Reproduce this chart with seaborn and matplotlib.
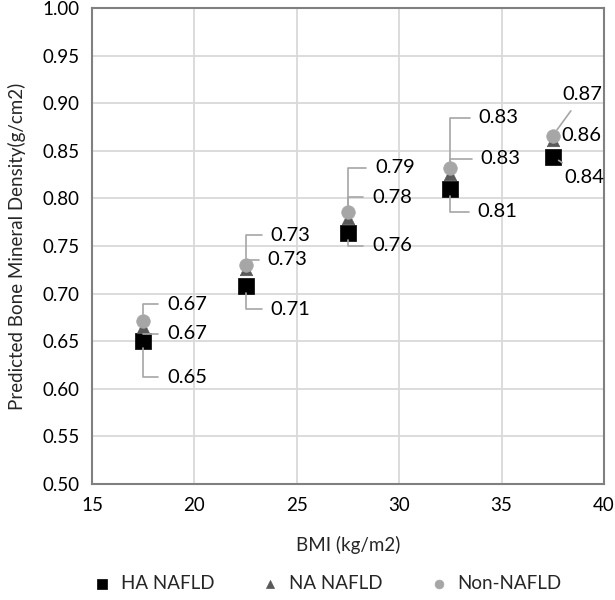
import numpy as np
import pandas as pd
import matplotlib
matplotlib.use("Agg")
import matplotlib.pyplot as plt
import seaborn as sns

# chart data
bmi = [17.5, 22.5, 27.5, 32.5, 37.5]
ha_nafld = [0.650, 0.708, 0.764, 0.810, 0.844]
na_nafld = [0.665, 0.726, 0.779, 0.826, 0.861]
non_nafld = [0.671, 0.730, 0.786, 0.832, 0.866]
series_names = ["HA NAFLD", "NA NAFLD", "Non-NAFLD"]

# label placement (pixel offsets from the point) and leader style
label_offsets = {
    "HA NAFLD": [(24, -36), (25, -23), (24, -13), (27, -23), (12, -21)],
    "NA NAFLD": [(24, -7), (22, 9), (24, 21), (30, 15), (9, 5)],
    "Non-NAFLD": [(24, 17), (25, 30), (27, 44), (28, 50), (10, 41)],
}
leaders = {
    "HA NAFLD": ["angle", "angle", "angle", "angle", "straight"],
    "NA NAFLD": ["angle", "angle", "angle", "angle", "none"],
    "Non-NAFLD": ["angle", "angle", "angle", "angle", "straight"],
}

df = pd.DataFrame({
    "BMI": bmi * 3,
    "BMD": ha_nafld + na_nafld + non_nafld,
    "Group": [n for n in series_names for _ in bmi],
})

sns.set_style("white")
plt.rcParams["font.family"] = ["Lato", "DejaVu Sans"]

fig = plt.figure(figsize=(6.15, 6.0), dpi=100)
ax = fig.add_axes([0.1496, 0.1933, 0.8325, 0.7933])

styles = {
    "HA NAFLD": dict(marker="s", color="#000000", s=120),
    "NA NAFLD": dict(marker="^", color="#595959", s=80),
    "Non-NAFLD": dict(marker="o", color="#a6a6a6", s=95),
}

for name in series_names:
    sub = df[df["Group"] == name]
    st = styles[name]
    sns.scatterplot(data=sub, x="BMI", y="BMD", marker=st["marker"], color=st["color"],
                    s=st["s"], edgecolor=st["color"], linewidth=0.5, label=name,
                    ax=ax, zorder=3)

# data labels
for name in series_names:
    sub = df[df["Group"] == name]
    for (x, y), (dx, dy), lead in zip(sub[["BMI", "BMD"]].values, label_offsets[name], leaders[name]):
        if lead == "none":
            arrow = None
        else:
            cs = "angle,angleA=0,angleB=90,rad=0" if lead == "angle" else "arc3"
            arrow = dict(arrowstyle="-", color="#a6a6a6", lw=1.2, connectionstyle=cs,
                         shrinkA=4, shrinkB=5)
        ax.annotate(f"{y:.2f}", xy=(x, y), xytext=(dx, dy), textcoords="offset pixels",
                    ha="left", va="center", fontsize=14.5, color="#000000",
                    arrowprops=arrow, zorder=4)

ax.set_xlim(15, 40)
ax.set_ylim(0.5, 1.0)
ax.set_xticks(np.arange(15, 41, 5))
ax.set_yticks(np.arange(0.5, 1.001, 0.05))
ax.set_yticklabels([f"{v:.2f}" for v in np.arange(0.5, 1.001, 0.05)])
ax.grid(True, color="#d9d9d9", lw=1.3)
ax.set_axisbelow(True)
for sp in ax.spines.values():
    sp.set_color("#808080")
    sp.set_linewidth(1.5)
ax.tick_params(axis="both", labelsize=13.5, length=0, pad=9, colors="#000000")

ax.set_xlabel("BMI (kg/m2)", fontsize=13.5, labelpad=16)
ax.set_ylabel("Predicted Bone Mineral Density(g/cm2)", fontsize=13.5, labelpad=12)

ax.legend(loc="upper center", bbox_to_anchor=(0.45, -0.155), ncol=3, frameon=False,
          fontsize=13.5, handletextpad=0.0, columnspacing=2.0, markerscale=0.65)

fig.savefig("out.png", dpi=100)
